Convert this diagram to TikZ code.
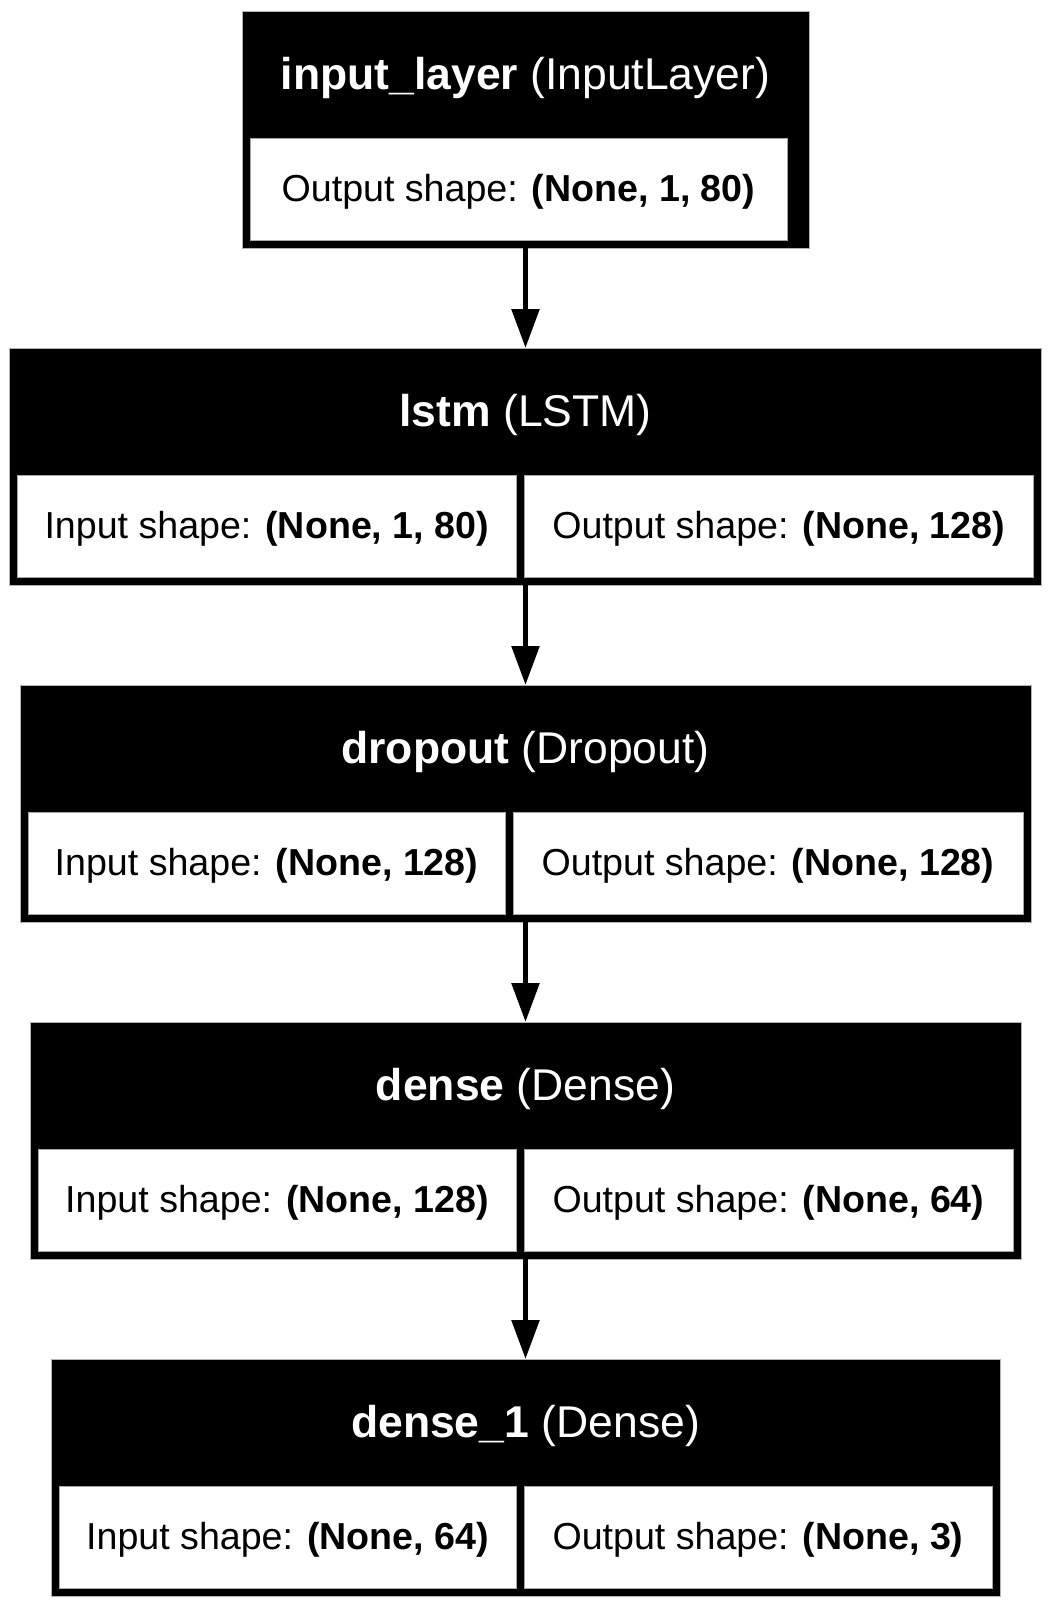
\documentclass[tikz,border=0pt]{standalone}
\usepackage{fontspec}
\setmainfont{Liberation Sans}
\usetikzlibrary{arrows.meta}

\begin{document}
\begin{tikzpicture}[x=1pt, y=-1pt,
        layer/.style={fill=black, draw=gray!60, line width=0.8pt, inner sep=0pt, outer sep=0pt, minimum height=237pt},
        head/.style={text=white, inner sep=0pt, font=\fontsize{44.5}{50}\selectfont},
        cell/.style={fill=white, draw=gray!70, line width=0.8pt, inner sep=0pt, outer sep=0pt, anchor=north west, minimum height=102pt, text height=27.5pt, text depth=2pt, font=\fontsize{37.6}{44}\selectfont},
        flow/.style={-{Triangle[width=27pt, length=39pt]}, line width=5.5pt}]
    \useasboundingbox (0,0) rectangle (1051,1610);
    % layer boxes
    \node[layer, minimum width=567pt] (input_layer) at (525.5,129.5) {};
    \node[layer, minimum width=1032pt] (lstm) at (525.5,466.5) {};
    \node[layer, minimum width=1011pt] (dropout) at (525.5,803.5) {};
    \node[layer, minimum width=991pt] (dense) at (525.5,1140.5) {};
    \node[layer, minimum width=949pt] (dense_1) at (525.5,1477.5) {};
    % titles
    \node[head] (input_layer_t) at (525.5,78) {\textbf{input\_layer} (InputLayer)};
    \node[head] (lstm_t) at (525.5,415) {\textbf{lstm} (LSTM)};
    \node[head] (dropout_t) at (525.5,752) {\textbf{dropout} (Dropout)};
    \node[head] (dense_t) at (525.5,1089) {\textbf{dense} (Dense)};
    \node[head] (dense_1_t) at (525.5,1426) {\textbf{dense\_1} (Dense)};
    % shapes
    \node[cell, minimum width=537pt] (input_layer_out) at (250,138) {Output shape: \textbf{(None, 1, 80)}};
    \node[cell, minimum width=498.5pt] (lstm_in) at (17.5,475) {Input shape: \textbf{(None, 1, 80)}};
    \node[cell, minimum width=509.5pt] (lstm_out) at (524,475) {Output shape: \textbf{(None, 128)}};
    \node[cell, minimum width=477pt] (dropout_in) at (28,812) {Input shape: \textbf{(None, 128)}};
    \node[cell, minimum width=510pt] (dropout_out) at (513,812) {Output shape: \textbf{(None, 128)}};
    \node[cell, minimum width=478pt] (dense_in) at (38,1149) {Input shape: \textbf{(None, 128)}};
    \node[cell, minimum width=489pt] (dense_out) at (524,1149) {Output shape: \textbf{(None, 64)}};
    \node[cell, minimum width=457pt] (dense_1_in) at (59,1486) {Input shape: \textbf{(None, 64)}};
    \node[cell, minimum width=468pt] (dense_1_out) at (524,1486) {Output shape: \textbf{(None, 3)}};
    % arrows
    \draw[flow] (input_layer.south) -- (lstm.north);
    \draw[flow] (lstm.south) -- (dropout.north);
    \draw[flow] (dropout.south) -- (dense.north);
    \draw[flow] (dense.south) -- (dense_1.north);
\end{tikzpicture}
\end{document}
